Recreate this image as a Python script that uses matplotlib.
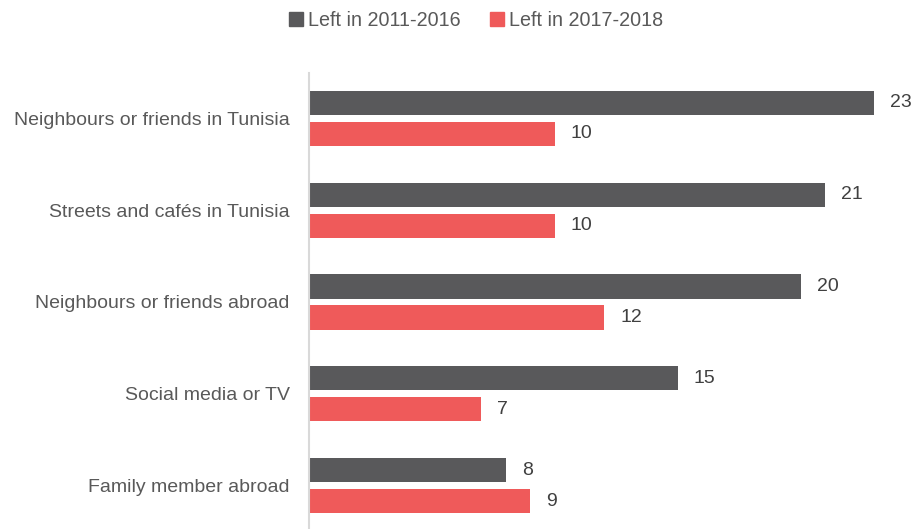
import numpy as np
import matplotlib.pyplot as plt
from matplotlib.patches import Patch

categories = ["Neighbours or friends in Tunisia", "Streets and cafés in Tunisia",
              "Neighbours or friends abroad", "Social media or TV", "Family member abroad"]
left_2011_2016 = [23, 21, 20, 15, 8]
left_2017_2018 = [10, 10, 12, 7, 9]
series_names = ["Left in 2011-2016", "Left in 2017-2018"]

dark = "#59595b"
red = "#ef5a5a"
text_col = "#595959"

plt.rcParams['font.family'] = ['Liberation Sans', 'DejaVu Sans']

fig = plt.figure(figsize=(9.14, 5.29), dpi=100)
ax = fig.add_axes([309 / 914, 0, 1 - 309 / 914 - 15 / 914, 1 - 72.6 / 529])

y = np.arange(len(categories))
h = 0.262
off = 0.169
b1 = ax.barh(y - off, left_2011_2016, height=h, color=dark)
b2 = ax.barh(y + off, left_2017_2018, height=h, color=red)

for bars, vals in ((b1, left_2011_2016), (b2, left_2017_2018)):
    for bar, v in zip(bars, vals):
        ax.annotate(str(v), (bar.get_width(), bar.get_y() + bar.get_height() / 2),
                    xytext=(16, 0), textcoords="offset pixels",
                    va="center", ha="left", fontsize=14, color="#404040")

ax.set_yticks(y)
ax.set_yticklabels(categories, fontsize=14, color=text_col)
ax.tick_params(axis="y", length=0, pad=14)
ax.set_xticks([])
ax.set_xlim(0, 24)
ax.set_ylim(4.474, -0.5)
for s in ("top", "right", "bottom"):
    ax.spines[s].set_visible(False)
ax.spines["left"].set_color("#d9d9d9")
ax.spines["left"].set_linewidth(1.5)

handles = [Patch(color=dark), Patch(color=red)]
fig.legend(handles, series_names, loc="center", bbox_to_anchor=(476 / 914, 1 - 20 / 529),
           ncol=2, frameon=False, fontsize=14.2, handlelength=0.7, handleheight=0.7,
           handletextpad=0.25, columnspacing=1.5, labelcolor=text_col)

fig.savefig("out.png", dpi=100)
